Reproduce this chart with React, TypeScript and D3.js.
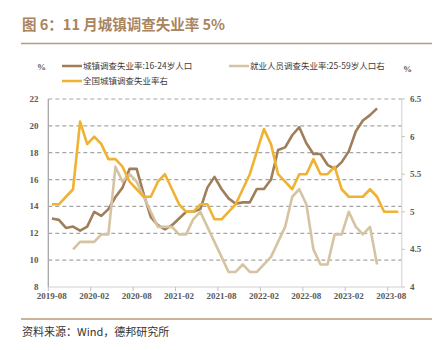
import React, { useRef, useEffect } from 'react';
import * as d3 from 'd3';

// category axis: 50 monthly slots, labelled every 6 months
const tickLabels = [
  '2019-08', '2020-02', '2020-08', '2021-02', '2021-08',
  '2022-02', '2022-08', '2023-02', '2023-08',
];
const categoryCount = 50;

// 城镇调查失业率:16-24岁人口 (left axis), starts at slot 0
const youthRate = [
  13.1, 13.0, 12.4, 12.5, 12.2, 12.5, 13.6, 13.3, 13.8, 14.7,
  15.4, 16.8, 16.8, 14.9, 13.2, 12.6, 12.3, 12.6, 13.1, 13.6,
  13.6, 13.8, 15.4, 16.2, 15.3, 14.6, 14.2, 14.3, 14.3, 15.3,
  15.3, 16.0, 18.2, 18.4, 19.3, 19.9, 18.7, 17.9, 17.9, 17.1,
  16.8, 17.3, 18.1, 19.6, 20.4, 20.8, 21.3,
];
const youthStart = 0;

// 就业人员调查失业率:25-59岁人口 (right axis), starts at slot 3
const adultRate = [
  4.5, 4.6, 4.6, 4.6, 4.7, 4.7, 5.6, 5.4, 5.5, 5.4,
  5.2, 5.0, 4.8, 4.8, 4.8, 4.7, 4.7, 4.9, 5.0, 4.8,
  4.6, 4.4, 4.2, 4.2, 4.3, 4.2, 4.2, 4.3, 4.4, 4.6,
  4.8, 5.2, 5.3, 5.1, 4.5, 4.3, 4.3, 4.7, 4.7, 5.0,
  4.8, 4.7, 4.8, 4.3,
];
const adultStart = 3;

// 全国城镇调查失业率 (right axis), starts at slot 0
const nationalRate = [
  5.1, 5.1, 5.2, 5.3, 6.2, 5.9, 6.0, 5.9, 5.7, 5.7,
  5.6, 5.4, 5.3, 5.2, 5.2, 5.4, 5.5, 5.3, 5.1, 5.0,
  5.0, 5.1, 5.1, 4.9, 4.9, 5.0, 5.1, 5.3, 5.5, 5.8,
  6.1, 5.9, 5.5, 5.4, 5.3, 5.5, 5.5, 5.7, 5.5, 5.5,
  5.6, 5.3, 5.2, 5.2, 5.2, 5.3, 5.2, 5.0, 5.0, 5.0,
];
const nationalStart = 0;

const leftTicks = [8, 10, 12, 14, 16, 18, 20, 22];
const rightTicks = [4, 4.5, 5, 5.5, 6, 6.5];

const BROWN = '#A07E5A';
const BEIGE = '#D5C4A1';
const YELLOW = '#F0B232';
const ACCENT = '#B89A7C';
const CJK = '"Noto Sans CJK SC", sans-serif';
const SERIF = '"Liberation Serif", "DejaVu Serif", serif';

const App: React.FC = () => {
  const svgRef = useRef<SVGSVGElement>(null);
  const width = 445;
  const height = 350;

  useEffect(() => {
    const svg = d3.select(svgRef.current);
    svg.selectAll('*').remove();

    const left = 48.3;
    const right = 401.8;
    const top = 99;
    const bottom = 287;

    const x = d3.scaleBand<number>().domain(d3.range(categoryCount)).range([left, right]);
    const cx = (i: number) => (x(i) as number) + x.bandwidth() / 2;
    const yL = d3.scaleLinear().domain([8, 22]).range([bottom, top]);
    const yR = d3.scaleLinear().domain([4, 6.5]).range([bottom, top]);

    svg.append('rect').attr('width', width).attr('height', height).attr('fill', '#ffffff');

    // title
    svg
      .append('text')
      .attr('x', 22)
      .attr('y', 30)
      .style('font-family', CJK)
      .style('font-size', '14.5px')
      .style('font-weight', 700)
      .style('fill', '#A9845F')
      .text('图 6：11 月城镇调查失业率 5%');

    svg
      .append('line')
      .attr('x1', 21)
      .attr('x2', 432)
      .attr('y1', 43.5)
      .attr('y2', 43.5)
      .attr('stroke', ACCENT)
      .attr('stroke-width', 1.6);

    // legend
    const legend = [
      { label: '城镇调查失业率:16-24岁人口', color: BROWN, x: 62, y: 66 },
      { label: '就业人员调查失业率:25-59岁人口右', color: BEIGE, x: 229, y: 66 },
      { label: '全国城镇调查失业率右', color: YELLOW, x: 62, y: 81 },
    ];
    legend.forEach(d => {
      svg
        .append('line')
        .attr('x1', d.x)
        .attr('x2', d.x + 20)
        .attr('y1', d.y)
        .attr('y2', d.y)
        .attr('stroke', d.color)
        .attr('stroke-width', 2.5);
      svg
        .append('text')
        .attr('x', d.x + 21)
        .attr('y', d.y + 3)
        .style('font-family', CJK)
        .style('font-size', '8.5px')
        .style('fill', '#404040')
        .text(d.label);
    });

    svg
      .append('text')
      .attr('x', 37)
      .attr('y', 70)
      .style('font-family', SERIF)
      .style('font-size', '9px')
      .style('font-weight', 700)
      .style('fill', '#595959')
      .text('%');
    svg
      .append('text')
      .attr('x', 403)
      .attr('y', 72)
      .style('font-family', SERIF)
      .style('font-size', '9px')
      .style('font-weight', 700)
      .style('fill', '#595959')
      .text('%');

    // grid
    svg
      .append('g')
      .selectAll('line')
      .data(leftTicks.filter(t => t > 8))
      .enter()
      .append('line')
      .attr('x1', left)
      .attr('x2', right)
      .attr('y1', d => yL(d))
      .attr('y2', d => yL(d))
      .attr('stroke', '#A6A6A6')
      .attr('stroke-width', 1.2)
      .attr('stroke-dasharray', '4,3');

    // axes lines
    svg
      .append('line')
      .attr('x1', left)
      .attr('x2', left)
      .attr('y1', top)
      .attr('y2', bottom)
      .attr('stroke', '#A6A6A6')
      .attr('stroke-width', 1.3);
    svg
      .append('line')
      .attr('x1', right)
      .attr('x2', right)
      .attr('y1', top)
      .attr('y2', bottom)
      .attr('stroke', '#D0D0D0')
      .attr('stroke-width', 1);
    svg
      .append('line')
      .attr('x1', left)
      .attr('x2', right)
      .attr('y1', bottom)
      .attr('y2', bottom)
      .attr('stroke', '#D0D0D0')
      .attr('stroke-width', 1);

    // x ticks + labels
    const xTickIdx = tickLabels.map((_, k) => k * 6);
    svg
      .append('g')
      .selectAll('line')
      .data(xTickIdx)
      .enter()
      .append('line')
      .attr('x1', d => x(d) as number)
      .attr('x2', d => x(d) as number)
      .attr('y1', bottom)
      .attr('y2', bottom + 4)
      .attr('stroke', '#BFBFBF');
    svg
      .append('g')
      .selectAll('text')
      .data(xTickIdx)
      .enter()
      .append('text')
      .attr('x', d => cx(d))
      .attr('y', 299)
      .attr('text-anchor', 'middle')
      .style('font-family', SERIF)
      .style('font-size', '9px')
      .style('font-weight', 700)
      .style('fill', '#595959')
      .text((_, k) => tickLabels[k]);

    // y labels
    svg
      .append('g')
      .selectAll('text')
      .data(leftTicks)
      .enter()
      .append('text')
      .attr('x', 38.5)
      .attr('y', d => yL(d) + 3)
      .attr('text-anchor', 'end')
      .style('font-family', SERIF)
      .style('font-size', '9px')
      .style('font-weight', 700)
      .style('fill', '#595959')
      .text(d => d);

    svg
      .append('g')
      .selectAll('line')
      .data(rightTicks)
      .enter()
      .append('line')
      .attr('x1', right)
      .attr('x2', right + 3)
      .attr('y1', d => yR(d))
      .attr('y2', d => yR(d))
      .attr('stroke', '#BFBFBF');
    svg
      .append('g')
      .selectAll('text')
      .data(rightTicks)
      .enter()
      .append('text')
      .attr('x', 410)
      .attr('y', d => yR(d) + 3)
      .style('font-family', SERIF)
      .style('font-size', '9px')
      .style('font-weight', 700)
      .style('fill', '#595959')
      .text(d => d);

    // series
    const series = [
      { values: youthRate, start: youthStart, scale: yL, color: BROWN },
      { values: adultRate, start: adultStart, scale: yR, color: BEIGE },
      { values: nationalRate, start: nationalStart, scale: yR, color: YELLOW },
    ];
    series.forEach(s => {
      const line = d3
        .line<number>()
        .x((_, i) => cx(s.start + i))
        .y(d => s.scale(d));
      svg
        .append('path')
        .attr('d', line(s.values))
        .attr('fill', 'none')
        .attr('stroke', s.color)
        .attr('stroke-width', 2.6)
        .attr('stroke-linejoin', 'round');
    });

    // source
    svg
      .append('line')
      .attr('x1', 21)
      .attr('x2', 432)
      .attr('y1', 319)
      .attr('y2', 319)
      .attr('stroke', ACCENT)
      .attr('stroke-width', 1.6);
    svg
      .append('text')
      .attr('x', 22)
      .attr('y', 336)
      .style('font-family', CJK)
      .style('font-size', '11px')
      .style('fill', '#333333')
      .text('资料来源：Wind，德邦研究所');
  }, []);

  return (
    <svg
      ref={svgRef}
      width={width}
      height={height}
      style={{ position: 'absolute', left: 0, top: 0, display: 'block' }}
    />
  );
};

export default App;
